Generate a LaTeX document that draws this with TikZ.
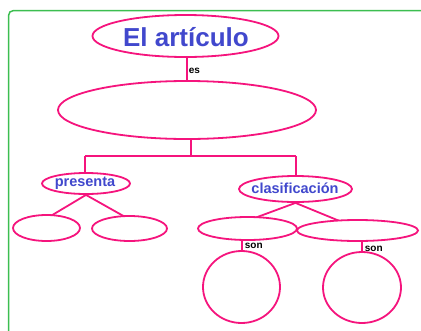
\documentclass[tikz,border=0pt]{standalone}
\usepackage{fontspec}
\setmainfont{Liberation Sans}
\usetikzlibrary{shapes.geometric,backgrounds}
\definecolor{pk}{RGB}{245,20,125}
\definecolor{bl}{RGB}{65,72,205}
\definecolor{gr}{RGB}{60,190,80}
\tikzset{
  ov/.style={draw=pk, line width=1.8pt, ellipse, inner sep=0pt, fill=white},
  ln/.style={draw=pk, line width=1.8pt},
  lbl/.style={text=bl, font=\bfseries\fontsize{14.5}{16}\selectfont},
  sm/.style={font=\bfseries\fontsize{10}{11}\selectfont, inner sep=0pt, anchor=west, text=black},
}
\begin{document}
\begin{tikzpicture}[x=1pt,y=-1pt]
\useasboundingbox (0,0) rectangle (421,330);
\begin{scope}
\clip (0,0) rectangle (421,330);
\draw[gr, line width=1.5pt, rounded corners=5pt] (8.5,10.5) rectangle (450,360);
\end{scope}
% nodes
\node[ov, minimum width=186pt, minimum height=42pt] (t) at (185.5,36) {};
\node[text=bl, font=\bfseries\fontsize{26}{28}\selectfont] (tt) at (186,37) {El artículo};
\node[ov, minimum width=258pt, minimum height=58pt] (e2) at (187,110) {};
\node[ov, minimum width=88pt, minimum height=21pt] (p) at (86,183.5) {};
\node[lbl] (pt) at (85,183) {presenta};
\node[ov, minimum width=113pt, minimum height=26pt] (c) at (295.5,189) {};
\node[lbl] (ct) at (295,188) {clasificación};
\node[ov, minimum width=67pt, minimum height=26pt] (p1) at (46.5,228) {};
\node[ov, minimum width=75pt, minimum height=25pt] (p2) at (129.5,228.5) {};
\node[ov, minimum width=99pt, minimum height=23pt] (c1) at (247.5,228.5) {};
\node[ov, minimum width=121pt, minimum height=21pt] (c2) at (357.5,230.5) {};
\node[ov, minimum width=77pt, minimum height=72pt] (s1) at (241.5,287) {};
\node[ov, minimum width=78pt, minimum height=71pt] (s2) at (362,287.5) {};
% connectors
\coordinate (v) at (187,50);
\coordinate (j) at (191,156);
\coordinate (jl) at (85,156);
\coordinate (jr) at (296,156);
\coordinate (a1) at (242,236);
\coordinate (a2) at (362,238);
\begin{pgfonlayer}{background}
\draw[ln] (v) -- (e2.north -| v) node[pos=0.7, sm, xshift=1pt] (es) {es};
\draw[ln] (e2.south -| j) -- (j);
\draw[ln] (jl) -- (jr);
\draw[ln] (jl) -- (jl |- p.north);
\draw[ln] (jr) -- (jr |- c.north);
\draw[ln] (p.south) -- (49,217);
\draw[ln] (p.south) -- (127,218);
\draw[ln] (c.south) -- (252,219);
\draw[ln] (c.south) -- (342,222);
\draw[ln] (a1) -- (s1.north -| a1) node[pos=0.72, sm, xshift=2pt] (son1) {son};
\draw[ln] (a2) -- (s2.north -| a2) node[pos=0.8, sm, xshift=2pt] (son2) {son};
\end{pgfonlayer}
\end{tikzpicture}
\end{document}
